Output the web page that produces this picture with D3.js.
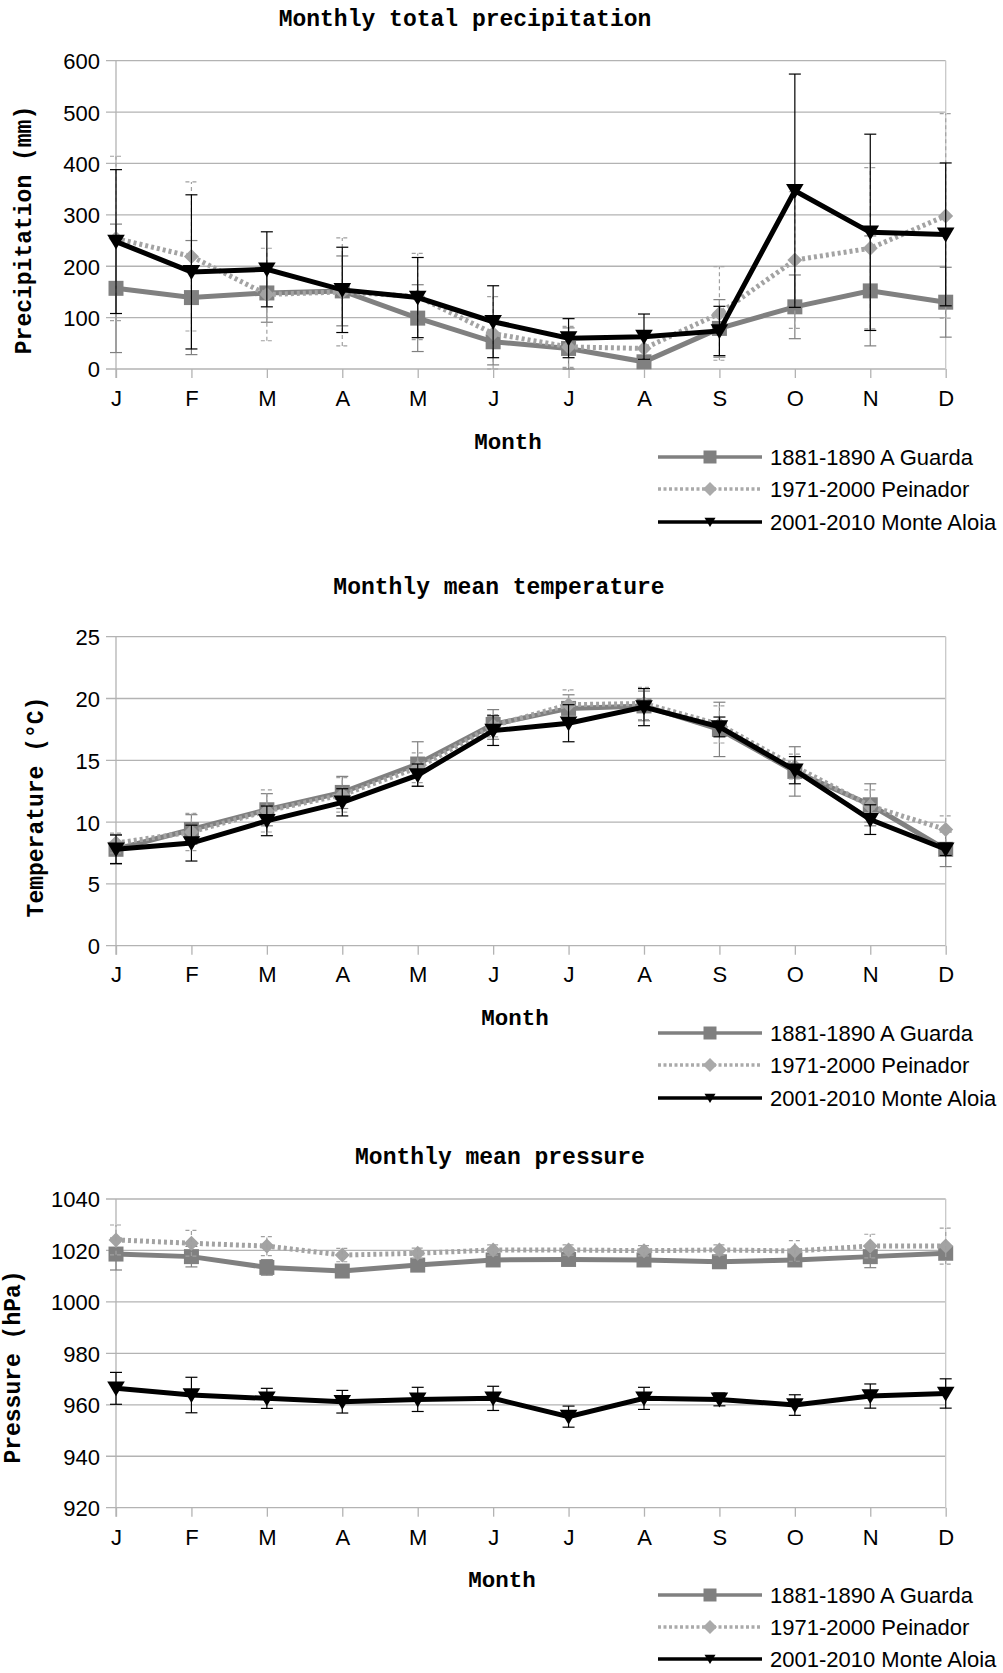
<!DOCTYPE html>
<html><head><meta charset="utf-8">
<script src="https://cdn.jsdelivr.net/npm/d3@7"></script>
<style>
html,body{margin:0;padding:0;background:#fff;}
svg{display:block;}
</style></head>
<body>
<script>
// ---------- DATA ----------
const months = ["J","F","M","A","M","J","J","A","S","O","N","D"];
const seriesNames = ["1881-1890 A Guarda","1971-2000 Peinador","2001-2010 Monte Aloia"];

// Precipitation (mm)
const precipGuarda   = [157,139,148,152,99,53,40,14,79,121,152,130];
const precipPeinador = [254,219,145,150,141,69,43,40,108,212,235,298];
const precipAloia    = [248,189,194,154,139,92,60,63,74,347,266,262];
const precipGuardaErr   = [125,111,57,68,65,45,40,8,56,62,107,68];
const precipPeinadorErr = [160,145,90,105,84,72,40,20,91,133,157,199];
const precipAloiaErr    = [140,150,73,83,78,70,38,44,48,227,191,139];
const precipTicks = [0,100,200,300,400,500,600];

// Temperature (°C)
const tempGuarda   = [7.8,9.4,11.0,12.4,14.7,17.9,19.2,19.4,17.5,14.1,11.4,7.8];
const tempPeinador = [8.3,9.2,10.9,12.2,14.4,17.8,19.5,19.6,17.9,14.5,11.3,9.4];
const tempAloia    = [7.8,8.3,10.1,11.6,13.8,17.4,18.0,19.3,17.7,14.2,10.2,7.8];
const tempGuardaErr   = [1.2,1.2,1.3,1.3,1.8,1.2,1.1,1.2,2.2,2.0,1.7,1.4];
const tempPeinadorErr = [0.8,1.5,1.7,1.4,1.2,0.9,1.2,1.3,1.5,1.0,1.3,1.1];
const tempAloiaErr    = [1.15,1.45,1.2,1.1,0.9,1.2,1.5,1.5,0.8,1.1,1.2,0.5];
const tempTicks = [0,5,10,15,20,25];

// Pressure (hPa)
const presGuarda   = [1018.6,1017.6,1013.4,1012.0,1014.3,1016.3,1016.5,1016.3,1015.6,1016.3,1017.6,1018.9];
const presPeinador = [1024.1,1022.8,1021.7,1018.2,1018.9,1020.2,1020.2,1019.9,1020.2,1019.8,1021.7,1021.7];
const presAloia    = [966.4,963.8,962.5,961.2,962.1,962.5,955.4,962.5,962.1,959.9,963.4,964.4];
const presGuardaErr   = [6.2,4.0,3.0,2.0,2.0,2.0,2.0,2.0,2.0,2.0,4.3,2.0];
const presPeinadorErr = [5.8,5.0,3.7,2.6,2.0,2.0,2.0,2.0,2.0,4.0,4.6,7.0];
const presAloiaErr    = [6.2,6.9,3.9,4.4,4.7,4.7,4.1,4.3,2.5,4.0,4.7,5.7];
const presTicks = [920,940,960,980,1000,1020,1040];

// ---------- DRAW ----------
const W = 1003, H = 1673;
const svg = d3.select("body").append("svg").attr("width", W).attr("height", H);

const sansFont = "'Liberation Sans', Arial, sans-serif";
const monoFont = "'Liberation Mono', 'DejaVu Sans Mono', monospace";
const plotLeft = 116, plotRight = 945.7;

const styles = [
  {color:"#808080", width:5, dash:null, marker:"square", errColor:"#808080", errDash:null, legColor:"#808080", legSize:13},
  {color:"#a3a3a3", width:5, dash:"3,3", marker:"diamond", errColor:"#a0a0a0", errDash:"4,3", legColor:"#aaaaaa", legSize:14},
  {color:"#000000", width:5, dash:null, marker:"triangle", errColor:"#000000", errDash:null, legColor:"#000000", legSize:10}
];

function markerPath(type, size){
  const s = size/2;
  if(type==="square") return `M${-s},${-s}H${s}V${s}H${-s}Z`;
  if(type==="diamond") return `M0,${-s}L${s},0L0,${s}L${-s},0Z`;
  return `M${-s*1.1},${-s*0.85}L${s*1.1},${-s*0.85}L0,${s*1.0}Z`;
}

function drawChart(cfg){
  const g = svg.append("g");
  const x = d3.scalePoint().domain(d3.range(months.length)).range([plotLeft, plotRight]);
  const y = d3.scaleLinear().domain([cfg.ticks[0], cfg.ticks[cfg.ticks.length-1]]).range([cfg.bottom, cfg.top]);

  // grid
  g.append("g").selectAll("line").data(cfg.ticks).join("line")
    .attr("x1", plotLeft-10).attr("x2", plotRight)
    .attr("y1", d=>y(d)).attr("y2", d=>y(d))
    .attr("stroke", "#b3b3b3").attr("stroke-width", 1.3);
  // left & right borders
  g.append("line").attr("x1",plotLeft).attr("x2",plotLeft).attr("y1",cfg.top).attr("y2",cfg.bottom+9)
    .attr("stroke","#b3b3b3").attr("stroke-width",1.3);
  g.append("line").attr("x1",plotRight).attr("x2",plotRight).attr("y1",cfg.top).attr("y2",cfg.bottom)
    .attr("stroke","#c8c8c8").attr("stroke-width",1.3);
  // x axis
  const xAxis = d3.axisBottom(x).tickFormat(i=>months[i]).tickSize(9).tickSizeOuter(0);
  const xa = g.append("g").attr("transform",`translate(0,${cfg.bottom})`).call(xAxis);
  xa.select(".domain").remove();
  xa.selectAll(".tick line").attr("stroke","#b3b3b3").attr("stroke-width",1.3);
  xa.selectAll(".tick text").attr("font-family",sansFont).attr("font-size",22).attr("fill","#000")
    .attr("y",null).attr("dy",null).attr("transform",`translate(0,${cfg.monthBase-cfg.bottom})`);
  // y labels
  const yAxis = d3.axisLeft(y).tickValues(cfg.ticks).tickFormat(d3.format("d")).tickSize(0).tickPadding(0);
  const ya = g.append("g").attr("transform",`translate(100,0)`).call(yAxis);
  ya.select(".domain").remove();
  ya.selectAll(".tick text").attr("font-family",sansFont).attr("font-size",22).attr("fill","#000").attr("x",0).attr("dy","0.36em");

  // series
  cfg.series.forEach((vals, si)=>{
    const st = styles[si];
    const errs = cfg.errors[si];
    const line = d3.line().x((d,i)=>x(i)).y(d=>y(d));
    const sg = g.append("g");
    sg.append("path").datum(vals).attr("d", line).attr("fill","none")
      .attr("stroke", st.color).attr("stroke-width", st.width)
      .attr("stroke-linejoin","miter")
      .attr("stroke-dasharray", st.dash);
    sg.selectAll("path.m").data(vals).join("path").attr("class","m")
      .attr("d", markerPath(st.marker, st.marker==="triangle"?16:15))
      .attr("transform",(d,i)=>`translate(${x(i)},${y(d)})`)
      .attr("fill", st.color);
    const eg = sg.append("g").attr("stroke", st.errColor).attr("stroke-width",1.2).attr("stroke-dasharray", st.errDash);
    vals.forEach((v,i)=>{
      const lo = Math.max(cfg.ticks[0], v-errs[i]), hi = v+errs[i];
      const xi = x(i);
      eg.append("line").attr("x1",xi).attr("x2",xi).attr("y1",y(lo)).attr("y2",y(hi));
      eg.append("line").attr("x1",xi-6).attr("x2",xi+6).attr("y1",y(lo)).attr("y2",y(lo));
      eg.append("line").attr("x1",xi-6).attr("x2",xi+6).attr("y1",y(hi)).attr("y2",y(hi));
    });
  });

  // title
  g.append("text").attr("x",cfg.titleX).attr("y",cfg.titleBase).attr("text-anchor","middle")
    .attr("font-family",monoFont).attr("font-weight","bold").attr("font-size",23).text(cfg.title);
  // y title
  g.append("text").attr("transform",`translate(${cfg.ylabX},${cfg.ylabY}) rotate(-90)`)
    .attr("text-anchor","middle").attr("dy","0.36em")
    .attr("font-family",monoFont).attr("font-weight","bold").attr("font-size",23).text(cfg.ylabel);
  // x title
  g.append("text").attr("x",cfg.monthX).attr("y",cfg.monthTitleBase).attr("text-anchor","middle")
    .attr("font-family",monoFont).attr("font-weight","bold").attr("font-size",22.5).text("Month");

  // legend
  const lg = g.append("g");
  seriesNames.forEach((nm, si)=>{
    const st = styles[si];
    const ly = cfg.legendY[si];
    lg.append("line").attr("x1",658).attr("x2",762).attr("y1",ly).attr("y2",ly)
      .attr("stroke", st.legColor).attr("stroke-width",3.5).attr("stroke-dasharray", st.dash?"3,2.5":null);
    lg.append("path").attr("d", markerPath(st.marker, st.legSize)).attr("transform",`translate(710,${ly})`).attr("fill", st.legColor);
    lg.append("text").attr("x",770).attr("y",ly).attr("dy","0.36em")
      .attr("font-family",sansFont).attr("font-size",22).text(nm);
  });
}

drawChart({
  top:60.7, bottom:369, ticks:precipTicks,
  series:[precipGuarda,precipPeinador,precipAloia],
  errors:[precipGuardaErr,precipPeinadorErr,precipAloiaErr],
  title:"Monthly total precipitation", titleX:465, titleBase:26,
  ylabel:"Precipitation (mm)", ylabX:23, ylabY:230,
  monthBase:406, monthX:508, monthTitleBase:449,
  legendY:[457,489,522]
});
drawChart({
  top:636.7, bottom:945.7, ticks:tempTicks,
  series:[tempGuarda,tempPeinador,tempAloia],
  errors:[tempGuardaErr,tempPeinadorErr,tempAloiaErr],
  title:"Monthly mean temperature", titleX:499, titleBase:594,
  ylabel:"Temperature (°C)", ylabX:35, ylabY:807,
  monthBase:982, monthX:515, monthTitleBase:1025,
  legendY:[1033,1065,1098]
});
drawChart({
  top:1199, bottom:1507.7, ticks:presTicks,
  series:[presGuarda,presPeinador,presAloia],
  errors:[presGuardaErr,presPeinadorErr,presAloiaErr],
  title:"Monthly mean pressure", titleX:500, titleBase:1164,
  ylabel:"Pressure (hPa)", ylabX:12, ylabY:1367,
  monthBase:1545, monthX:502, monthTitleBase:1587,
  legendY:[1595,1627,1659]
});
</script>
</body></html>
